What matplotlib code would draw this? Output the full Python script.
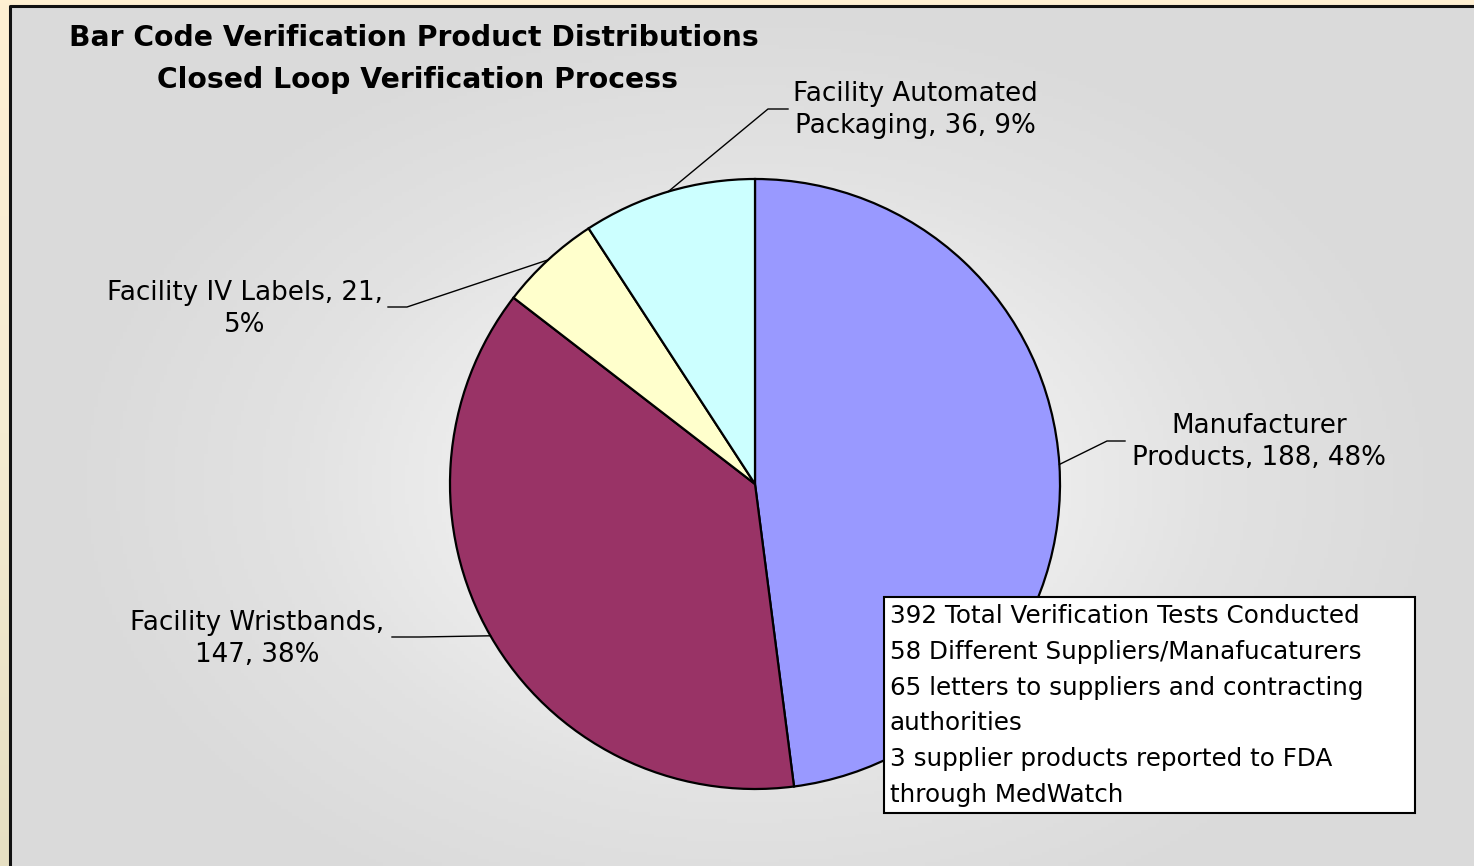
import numpy as np
import matplotlib
matplotlib.use("Agg")
import matplotlib.pyplot as plt
from matplotlib.colors import LinearSegmentedColormap
from matplotlib.patches import Rectangle

# ── data ─────────────────────────────────────────────────────────────
labels = ["Manufacturer\nProducts, 188, 48%",
          "Facility Wristbands,\n147, 38%",
          "Facility IV Labels, 21,\n5%",
          "Facility Automated\nPackaging, 36, 9%"]
values = [188, 147, 21, 36]
colors = ["#9999FF", "#993366", "#FFFFCC", "#CCFFFF"]
title_lines = ["Bar Code Verification Product Distributions",
               "Closed Loop Verification Process"]
note_lines = ["392 Total Verification Tests Conducted",
              "58 Different Suppliers/Manafucaturers",
              "65 letters to suppliers and contracting",
              "authorities",
              "3 supplier products reported to FDA",
              "through MedWatch"]

W, H = 1474, 866
plt.rcParams["font.family"] = ["DejaVu Sans"]

fig = plt.figure(figsize=(W / 100, H / 100), dpi=100)
ax = fig.add_axes([0, 0, 1, 1])

# outer cream background (vertical gradient)
cream = LinearSegmentedColormap.from_list("cream", ["#FFF0D2", "#F5ECD2", "#E6DFC2"])
ax.imshow(np.linspace(0, 1, 256).reshape(-1, 1), cmap=cream, aspect="auto",
          extent=[0, W, 0, H], origin="upper", zorder=0)

# gray panel with radial gradient
cx, cy, R = 755, H - 484, 305
px0, py1 = 10, H - 6
xs = np.linspace(px0, W, 400)
ys = np.linspace(0, py1, 240)
XX, YY = np.meshgrid(xs, ys)
d = np.sqrt(((XX - cx) / 700) ** 2 + ((YY - cy) / 480) ** 2)
d = np.clip(d, 0, 1)
grey = LinearSegmentedColormap.from_list("grey", ["#FFFFFF", "#F0F0F0", "#E2E2E2", "#DADADA"])
ax.imshow(d, cmap=grey, extent=[px0, W, 0, py1], origin="lower",
          aspect="auto", zorder=1, vmin=0, vmax=1)
ax.plot([px0, px0, W], [0, py1, py1], color="#111111", lw=2.2, zorder=2)

# pie
wedges, _ = ax.pie(values, colors=colors, startangle=90, counterclock=False,
                   center=(cx, cy), radius=R, frame=True,
                   wedgeprops=dict(edgecolor="black", linewidth=1.6, zorder=3))
ax.set_xlim(0, W)
ax.set_ylim(0, H)
ax.set_aspect("equal")
ax.axis("off")

# labels with leader lines (elbow -> text anchor)
lab_pos = [(1259, H - 442, (1107, H - 441), (1125, H - 441)),
           (257, H - 639, (420, H - 637), (392, H - 637)),
           (245, H - 309, (407, H - 307), (388, H - 307)),
           (915, H - 110, (768, H - 109), (788, H - 109))]
for w, lab, (tx, ty, elbow, end) in zip(wedges, labels, lab_pos):
    mid = np.deg2rad((w.theta1 + w.theta2) / 2)
    ex, ey = cx + R * np.cos(mid), cy + R * np.sin(mid)
    ax.plot([ex, elbow[0], end[0]], [ey, elbow[1], end[1]],
            color="black", lw=1.0, zorder=4)
    ax.text(tx, ty, lab, ha="center", va="center", fontsize=18.8,
            linespacing=1.3, zorder=5)

# title
ax.text(414, H - 38, title_lines[0], ha="center", va="center",
        fontsize=20.3, fontweight="bold", zorder=5)
ax.text(418, H - 80, title_lines[1], ha="center", va="center",
        fontsize=20.3, fontweight="bold", zorder=5)

# note box
ax.add_patch(Rectangle((884, H - 813), 531, 216, facecolor="white",
                       edgecolor="black", lw=1.5, zorder=6))
for i, line in enumerate(note_lines):
    ax.text(890, H - 616 - i * 35.8, line, ha="left", va="center",
            fontsize=17.7, zorder=7)

fig.savefig("out.png", dpi=100)
